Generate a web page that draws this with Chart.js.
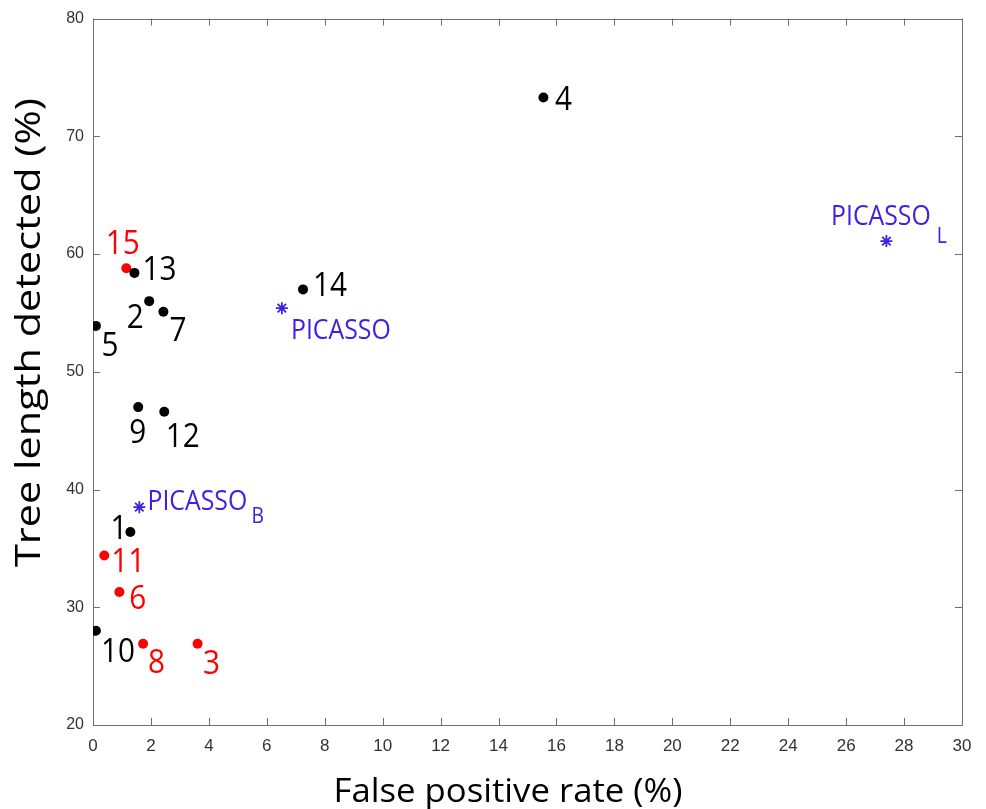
<!DOCTYPE html>
<html>
<head>
<meta charset="utf-8">
<script src="https://cdn.jsdelivr.net/npm/chart.js@4.4.0/dist/chart.umd.min.js"></script>
<style>
html, body { margin: 0; padding: 0; background: #fff; }
#wrap { width: 986px; height: 809px; }
</style>
</head>
<body>
<div id="wrap"><canvas id="myChart"></canvas></div>
<script>
// data
const blackLabels = ['4', '13', '2', '7', '5', '14', '9', '12', '1', '10'];
const blackX = [15.55, 1.43, 1.94, 2.43, 0.10, 7.25, 1.56, 2.46, 1.29, 0.10];
const blackY = [73.3, 58.4, 56.0, 55.1, 53.9, 57.0, 47.0, 46.6, 36.4, 28.0];

const redLabels = ['15', '11', '6', '8', '3'];
const redX = [1.15, 0.39, 0.91, 1.73, 3.61];
const redY = [58.8, 34.4, 31.3, 26.9, 26.9];

const picassoLabels = ['PICASSO', 'PICASSO', 'PICASSO'];
const picassoSubs = ['', 'B', 'L'];
const picassoX = [6.52, 1.60, 27.39];
const picassoY = [55.4, 38.5, 61.1];

const xTicks = [0, 2, 4, 6, 8, 10, 12, 14, 16, 18, 20, 22, 24, 26, 28, 30];
const yTicks = [20, 30, 40, 50, 60, 70, 80];

const xTitle = 'False positive rate (%)';
const yTitle = 'Tree length detected (%)';

// label placement (pixel offset of text centre from its marker)
const blackOffsets = [[20, 1], [25, -4.5], [-14, 15.5], [14.5, 17.5], [14, 18.5], [27, -5.5], [-0.5, 24], [18.5, 23.5], [-11.5, -5], [22, 19.5]];
const redOffsets = [[-3.5, -25.5], [24, 5], [18.5, 5.5], [13.5, 17.5], [14, 18.5]];
const picassoOffsets = [[59, 21], [58, -7], [-5.5, -26]];
const subOffsets = [[0, 0], [118.5, 8], [55.5, -6]];

const BLUE = '#4020e6';
const RED = '#ff0000';
const AXIS = '#6e6e6e';
const FONT = '"Open Sans", "Noto Sans", sans-serif';

function pts(xs, ys) {
    return xs.map((x, i) => ({ x: x, y: ys[i] }));
}

function drawText(ctx, str, cx, cy, size, color, sx) {
    ctx.save();
    ctx.font = size + 'px ' + FONT;
    ctx.fillStyle = color;
    ctx.textAlign = 'center';
    ctx.textBaseline = 'alphabetic';
    ctx.translate(cx, cy + size * 0.357);
    ctx.scale(sx, 1);
    ctx.fillText(str, 0, 0);
    ctx.restore();
}

const labelPlugin = {
    id: 'labelPlugin',
    beforeDatasetsDraw(chart) {
        const ctx = chart.ctx;
        const a = chart.chartArea;
        const xs = chart.scales.x, ys = chart.scales.y;
        ctx.save();
        ctx.strokeStyle = AXIS;
        ctx.lineWidth = 1;
        ctx.beginPath();
        ctx.rect(Math.round(a.left) + 0.5, Math.round(a.top) + 0.5, Math.round(a.right - a.left), Math.round(a.bottom - a.top));
        xs.ticks.forEach(t => {
            const px = Math.round(xs.getPixelForValue(t.value)) + 0.5;
            ctx.moveTo(px, a.bottom); ctx.lineTo(px, a.bottom - 7);
            ctx.moveTo(px, a.top); ctx.lineTo(px, a.top + 7);
        });
        ys.ticks.forEach(t => {
            const py = Math.round(ys.getPixelForValue(t.value)) + 0.5;
            ctx.moveTo(a.left, py); ctx.lineTo(a.left + 7, py);
            ctx.moveTo(a.right, py); ctx.lineTo(a.right - 7, py);
        });
        ctx.stroke();
        ctx.restore();
    },
    afterDatasetsDraw(chart) {
        const ctx = chart.ctx;
        const m0 = chart.getDatasetMeta(0).data;
        m0.forEach((p, i) => drawText(ctx, blackLabels[i], p.x + blackOffsets[i][0], p.y + blackOffsets[i][1], 33, '#000', 0.9));
        const m1 = chart.getDatasetMeta(1).data;
        m1.forEach((p, i) => drawText(ctx, redLabels[i], p.x + redOffsets[i][0], p.y + redOffsets[i][1], 33, RED, 0.9));
        const m2 = chart.getDatasetMeta(2).data;
        m2.forEach((p, i) => {
            drawText(ctx, picassoLabels[i], p.x + picassoOffsets[i][0], p.y + picassoOffsets[i][1], 27, BLUE, 0.92);
            if (picassoSubs[i]) {
                drawText(ctx, picassoSubs[i], p.x + subOffsets[i][0], p.y + subOffsets[i][1], 21, BLUE, 0.92);
            }
        });

        // axis titles
        ctx.save();
        ctx.font = '32px ' + FONT;
        ctx.fillStyle = '#000';
        ctx.textAlign = 'center';
        ctx.textBaseline = 'alphabetic';
        let k = 349 / ctx.measureText(xTitle).width;
        ctx.translate(508, 802);
        ctx.scale(k, 1);
        ctx.fillText(xTitle, 0, 0);
        ctx.restore();

        ctx.save();
        ctx.font = '34px ' + FONT;
        ctx.fillStyle = '#000';
        ctx.textAlign = 'center';
        ctx.textBaseline = 'alphabetic';
        k = 469 / ctx.measureText(yTitle).width;
        ctx.translate(40, 332.5);
        ctx.rotate(-Math.PI / 2);
        ctx.scale(k, 1);
        ctx.fillText(yTitle, 0, 0);
        ctx.restore();
    }
};

const ctx1 = document.getElementById('myChart').getContext('2d');
const myChart = new Chart(ctx1, {
    type: 'scatter',
    data: {
        datasets: [{
            label: 'black',
            data: pts(blackX, blackY),
            pointStyle: 'circle',
            pointRadius: 5,
            backgroundColor: '#000',
            borderColor: '#000',
            borderWidth: 0
        }, {
            label: 'red',
            data: pts(redX, redY),
            pointStyle: 'circle',
            pointRadius: 5,
            backgroundColor: RED,
            borderColor: RED,
            borderWidth: 0
        }, {
            label: 'picasso',
            data: pts(picassoX, picassoY),
            pointStyle: 'star',
            pointRadius: 6,
            backgroundColor: BLUE,
            borderColor: BLUE,
            borderWidth: 1.8
        }]
    },
    options: {
        responsive: true,
        maintainAspectRatio: false,
        animation: false,
        events: [],
        layout: { padding: { top: 16, right: 24, left: 0, bottom: 0 } },
        plugins: {
            legend: { display: false },
            tooltip: { enabled: false }
        },
        scales: {
            x: {
                type: 'linear',
                min: 0,
                max: 30,
                afterBuildTicks: s => { s.ticks = xTicks.map(v => ({ value: v })); },
                afterFit: s => { s.height = 84; },
                grid: { display: false, drawTicks: false },
                border: { display: false },
                ticks: {
                    padding: 11,
                    color: '#333',
                    font: { family: '"Liberation Sans", Arial, sans-serif', size: 17 },
                    maxRotation: 0,
                    autoSkip: false
                }
            },
            y: {
                type: 'linear',
                min: 20,
                max: 80,
                afterBuildTicks: s => { s.ticks = yTicks.map(v => ({ value: v })); },
                afterFit: s => { s.width = 93; },
                grid: { display: false, drawTicks: false },
                border: { display: false },
                ticks: {
                    padding: 9,
                    color: '#333',
                    font: { family: '"Liberation Sans", Arial, sans-serif', size: 16 },
                    autoSkip: false
                }
            }
        }
    },
    plugins: [labelPlugin]
});
</script>
</body>
</html>
